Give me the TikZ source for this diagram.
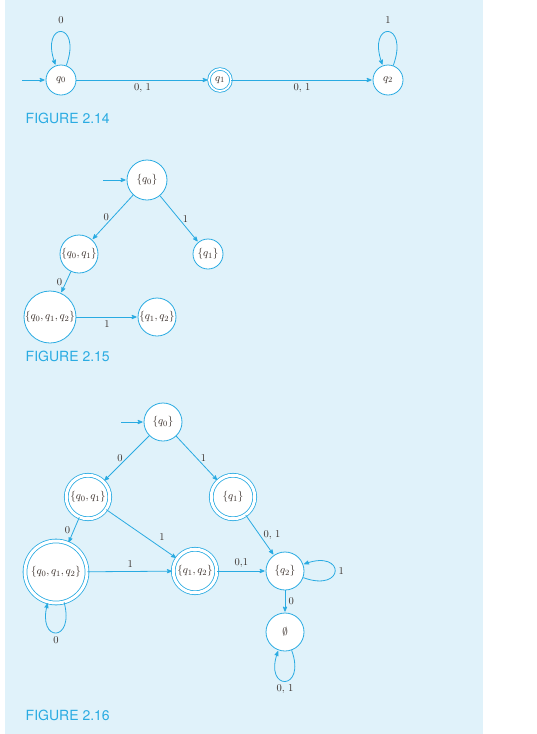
\documentclass[tikz,border=0pt]{standalone}
\usepackage{fontspec}
\usepackage{amssymb}
\usetikzlibrary{arrows}
\newfontfamily\figfont{TeX Gyre Heros}
\definecolor{dfa}{RGB}{41,171,226}
\definecolor{panel}{RGB}{224,242,250}
\definecolor{ink}{RGB}{55,45,40}

\begin{document}
\begin{tikzpicture}[x=1pt,y=1pt,->,>=stealth',shorten >=1pt,thick,dfa,
                    main node/.style={circle,draw,fill=white,text=ink,inner sep=0pt,minimum size=#1,
                                      font=\fontsize{11}{13}\selectfont},
                    final node/.style={main node=#1,double=white,double distance=3pt},
                    caption/.style={anchor=west,text=dfa,font=\figfont\fontsize{14}{16}\selectfont}]
  \useasboundingbox (0,0) rectangle (536,-734);
  \fill[panel] (5,0) rectangle (483,-734);

  % figure 2.14
  \coordinate (s1) at (22,-80);
  \node[main node=30pt] (1) at (61,-80) {$q_0$};
  \node[final node=22pt,double distance=1.8pt] (2) at (220,-80) {$q_1$};
  \node[main node=30pt] (3) at (388,-80) {$q_2$};
  \node[caption] (c1) at (22,-118) {FIGURE 2.14};

  \path[every node/.style={text=ink,font=\fontsize{10.5}{12}\selectfont}]
    (s1) edge (1)
    (1) edge [out=70,in=110,distance=48pt] node[above=4pt] {0} (1)
    (1) edge node[below] {0, 1} (2)
    (2) edge node[below] {0, 1} (3)
    (3) edge [out=70,in=110,distance=48pt] node[above=4pt] {1} (3);

  % figure 2.15
  \coordinate (s2) at (103,-180);
  \node[main node=40pt] (4) at (147,-180) {$\{q_0\}$};
  \node[main node=38pt] (5) at (79,-254) {$\{q_0, q_1\}$};
  \node[main node=30pt] (6) at (208,-254) {$\{q_1\}$};
  \node[main node=52pt] (7) at (50,-317) {$\{q_0, q_1, q_2\}$};
  \node[main node=38pt] (8) at (157,-317) {$\{q_1, q_2\}$};
  \node[caption] (c2) at (22,-356) {FIGURE 2.15};

  \path[every node/.style={text=ink,font=\fontsize{10.5}{12}\selectfont}]
    (s2) edge (4)
    (4) edge node[left] {0} (5)
    (4) edge node[right] {1} (6)
    (5) edge node[left] {0} (7)
    (7) edge node[below] {1} (8);

  % figure 2.16
  \coordinate (s3) at (121,-422);
  \node[main node=38pt] (9) at (163,-422) {$\{q_0\}$};
  \node[final node=43.5pt] (10) at (88,-497) {$\{q_0, q_1\}$};
  \node[final node=43.5pt] (11) at (233,-497) {$\{q_1\}$};
  \node[final node=62pt] (12) at (56,-572) {$\{q_0, q_1, q_2\}$};
  \node[final node=43.5pt] (13) at (195,-571) {$\{q_1, q_2\}$};
  \node[main node=38pt] (14) at (285,-571) {$\{q_2\}$};
  \node[main node=38pt] (15) at (285,-632) {$\emptyset$};
  \node[caption] (c3) at (22,-715) {FIGURE 2.16};

  \path[every node/.style={text=ink,font=\fontsize{10.5}{12}\selectfont}]
    (s3) edge (9)
    (9) edge node[left] {0} (10)
    (9) edge node[right] {1} (11)
    (10) edge node[left] {0} (12)
    (10) edge node[pos=0.7,above right] {1} (13)
    (12) edge node[above] {1} (13)
    (12) edge [out=-75,in=-105,distance=42pt] node[below] {0} (12)
    (11) edge node[right] {0, 1} (14)
    (13) edge node[above] {0,1} (14)
    (14) edge [out=-20,in=20,distance=45pt] node[right] {1} (14)
    (14) edge node[right] {0} (15)
    (15) edge [out=-70,in=-110,distance=44pt] node[below] {0, 1} (15);
\end{tikzpicture}
\end{document}
